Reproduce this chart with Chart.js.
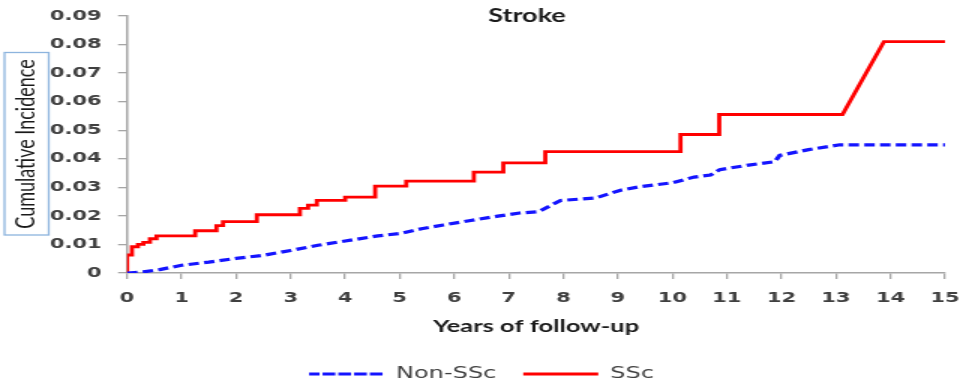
<!DOCTYPE html>
<html>
<head>
<meta charset="utf-8">
<script src="https://cdn.jsdelivr.net/npm/chart.js@4/dist/chart.umd.min.js"></script>
<style>
  html, body { margin: 0; padding: 0; background: #fff; overflow: hidden; }
  #wrap { width: 642px; height: 382px; transform: scaleX(1.5); transform-origin: 0 0; }
</style>
</head>
<body>
<div id="wrap"><canvas id="chart" width="642" height="382"></canvas></div>
<script>
// Cumulative incidence of stroke over follow-up (years)
const chartTitle = 'Stroke';
const yAxisTitle = 'Cumulative Incidence';
const xAxisTitle = 'Years of follow-up';
const seriesNames = ['Non-SSc', 'SSc'];

const xTickLabels = ['0','1','2','3','4','5','6','7','8','9','10','11','12','13','14','15'];
const yTickLabels = ['0','0.01','0.02','0.03','0.04','0.05','0.06','0.07','0.08','0.09'];

// Non-SSc curve
const nonSscYears = [0, 0.3, 0.6, 1.0, 1.5, 2.0, 2.5, 3.0, 3.5, 4.0, 4.6, 5.0, 5.4, 5.8, 6.3, 6.8, 7.2, 7.55, 7.95, 8.6, 9.05, 9.4, 10.0, 10.4, 10.7, 10.87, 11.4, 11.88, 11.97, 12.5, 13.07, 14.0, 15.0];
const nonSscIncidence = [0, 0.0004, 0.0012, 0.0027, 0.0038, 0.0051, 0.0062, 0.0079, 0.0097, 0.0112, 0.0130, 0.0138, 0.0155, 0.0168, 0.0184, 0.0199, 0.0210, 0.0215, 0.0254, 0.0263, 0.0290, 0.0302, 0.0316, 0.0336, 0.0343, 0.0362, 0.0378, 0.0390, 0.0412, 0.0432, 0.0449, 0.0449, 0.0449];

// SSc curve: jump times and the level reached at each jump
const sscEventYears = [0, 0.09, 0.2, 0.3, 0.42, 0.54, 1.25, 1.64, 1.76, 2.38, 3.17, 3.32, 3.48, 4.0, 4.55, 5.12, 6.36, 6.9, 7.67, 10.15, 10.86];
const sscEventLevels = [0.0063, 0.0092, 0.0100, 0.0107, 0.0120, 0.0130, 0.0148, 0.0166, 0.0180, 0.0204, 0.0226, 0.0238, 0.0254, 0.0266, 0.0304, 0.0322, 0.0353, 0.0386, 0.0425, 0.0485, 0.0555];
// SSc curve after the last jump
const sscTailYears = [13.12, 13.88, 15];
const sscTailLevels = [0.0555, 0.081, 0.081];

function toPoints(xs, ys) {
  return xs.map((x, i) => ({ x: x, y: ys[i] }));
}

// step function: hold the previous level up to each jump, then rise vertically
function stepPoints(years, levels, tailYears, tailLevels) {
  const pts = [];
  let prev = 0;
  years.forEach((t, i) => {
    pts.push({ x: t, y: prev });
    pts.push({ x: t, y: levels[i] });
    prev = levels[i];
  });
  return pts.concat(toPoints(tailYears, tailLevels));
}

const axisGray = '#a6a6a6';
const tickFont = { family: "'DejaVu Sans', Verdana, sans-serif", size: 14, weight: 'bold' };

const decorations = {
  id: 'decorations',
  afterDraw(chart) {
    const ctx = chart.ctx;
    const area = chart.chartArea;
    ctx.save();
    // chart title
    ctx.fillStyle = '#1a1a1a';
    ctx.font = "bold 18px Lato, sans-serif";
    ctx.textAlign = 'center';
    ctx.textBaseline = 'middle';
    ctx.fillText(chartTitle, (area.left + area.right) / 2 - 6, 16);
    // boxed vertical axis title
    ctx.strokeStyle = '#8db4de';
    ctx.lineWidth = 1.3;
    ctx.strokeRect(3, 52.5, 29.5, 182.5);
    ctx.translate(17.5, 144);
    ctx.rotate(-Math.PI / 2);
    ctx.fillStyle = '#1a1a1a';
    ctx.font = "18px Lato, sans-serif";
    ctx.fillText(yAxisTitle, 0, 0);
    ctx.restore();
  }
};

new Chart(document.getElementById('chart'), {
  type: 'line',
  data: {
    datasets: [
      {
        label: seriesNames[0],
        data: toPoints(nonSscYears, nonSscIncidence),
        borderColor: 'rgb(20,20,255)',
        backgroundColor: 'rgb(20,20,255)',
        borderWidth: 3.2,
        borderDash: [7, 3.5],
        pointRadius: 0,
        tension: 0
      },
      {
        label: seriesNames[1],
        data: stepPoints(sscEventYears, sscEventLevels, sscTailYears, sscTailLevels),
        borderColor: 'rgb(255,0,0)',
        backgroundColor: 'rgb(255,0,0)',
        borderWidth: 2.8,
        pointRadius: 0,
        tension: 0
      }
    ]
  },
  options: {
    responsive: false,
    animation: false,
    layout: { padding: { top: 0, right: 0, bottom: -10, left: 0 } },
    scales: {
      x: {
        type: 'linear',
        min: 0,
        max: 15,
        afterFit(scale) {
          scale.height = 75;
          scale.paddingRight = 12;
        },
        ticks: {
          stepSize: 1,
          autoSkip: false,
          maxRotation: 0,
          color: '#404040',
          font: tickFont,
          padding: 11,
          callback: (v, i) => xTickLabels[i]
        },
        grid: { drawOnChartArea: false, drawTicks: true, tickLength: 6, color: axisGray, lineWidth: 1.3 },
        border: { display: true, color: axisGray, width: 1.5 }
      ,
        title: {
          display: true,
          text: xAxisTitle,
          color: '#1a1a1a',
          font: { family: "Lato, sans-serif", size: 17, weight: 'bold' },
          padding: { top: 0, bottom: 11 }
        }
      },
      y: {
        min: 0,
        max: 0.09,
        afterFit(scale) {
          scale.width = 84.7;
          scale.paddingTop = 16;
        },
        ticks: {
          stepSize: 0.01,
          color: '#404040',
          font: tickFont,
          padding: 11,
          callback: (v, i) => yTickLabels[i]
        },
        grid: { drawOnChartArea: false, drawTicks: true, tickLength: 6, color: axisGray, lineWidth: 1.3 },
        border: { display: true, color: axisGray, width: 1.5 }
      }
    },
    plugins: {
      title: { display: false },
      tooltip: { enabled: false },
      legend: {
        display: true,
        position: 'bottom',
        labels: {
          boxWidth: 50,
          boxHeight: 0,
          padding: 18,
          color: '#404040',
          font: { family: "'DejaVu Sans', Verdana, sans-serif", size: 16 }
        }
      }
    }
  },
  plugins: [decorations]
});
</script>
</body>
</html>
